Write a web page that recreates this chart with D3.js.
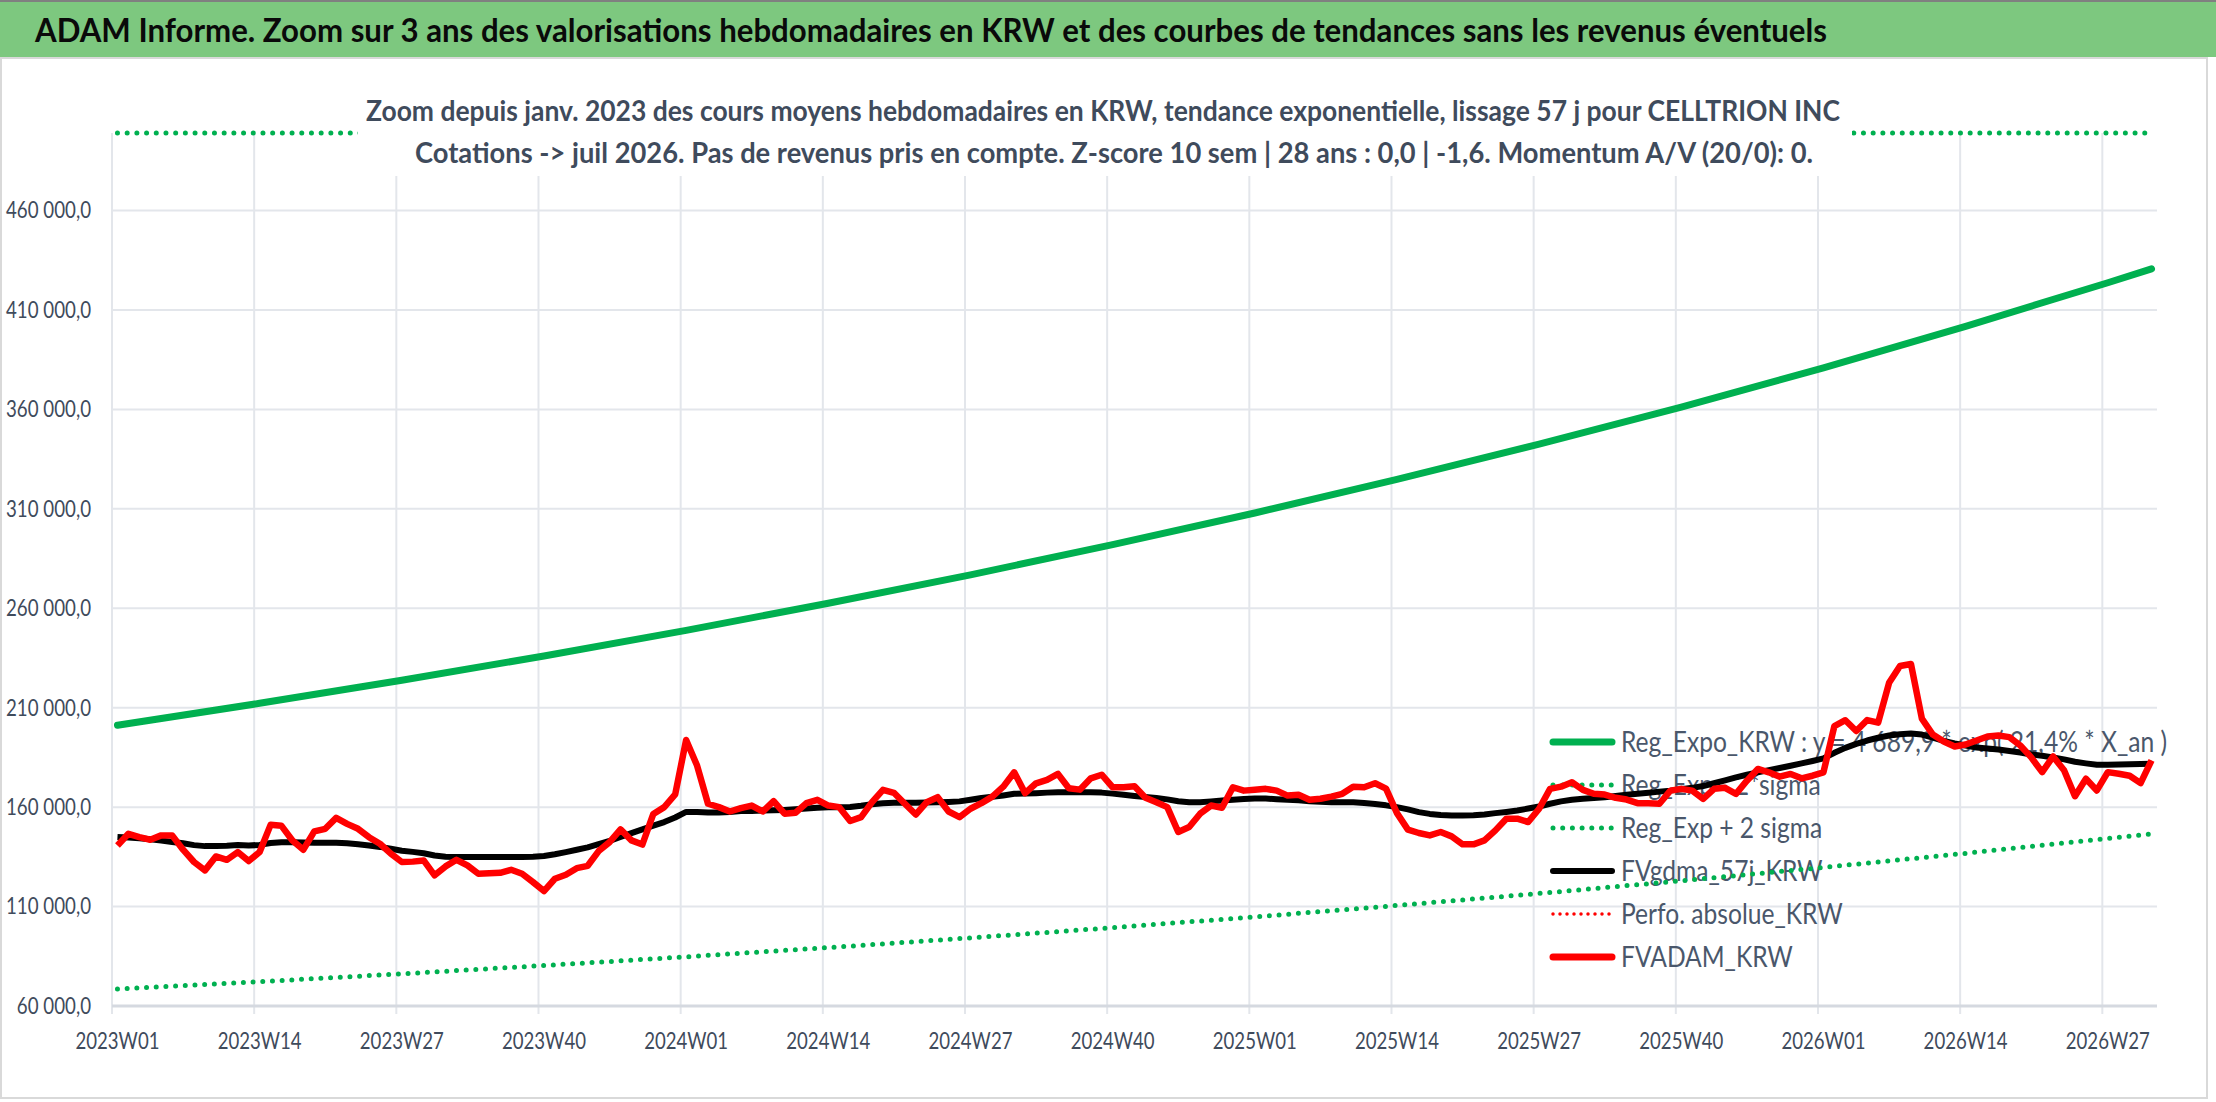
<!DOCTYPE html>
<html>
<head>
<meta charset="utf-8">
<script src="https://cdn.jsdelivr.net/npm/d3@7"></script>
<style>
  body { margin: 0; background: #fff; }
  svg { display: block; }
</style>
</head>
<body>
<div id="chart"></div>
<script>
/* global d3 */

// Weeks shown on the category axis
const years = [2023, 2024, 2025, 2026]
const weeksInYear = [52, 52, 52, 31]
const categories = []
years.forEach((y, i) => {
  for (let w = 1; w <= weeksInYear[i]; w++) categories.push(y + 'W' + String(w).padStart(2, '0'))
})

const tickLabels = ['2023W01', '2023W14', '2023W27', '2023W40', '2024W01', '2024W14', '2024W27', '2024W40',
  '2025W01', '2025W14', '2025W27', '2025W40', '2026W01', '2026W14', '2026W27']
const yTicks = [60000, 110000, 160000, 210000, 260000, 310000, 360000, 410000, 460000]

// Trend curves, read every 13 weeks
const trendWeeks = ['2023W01', '2023W14', '2023W27', '2023W40', '2024W01', '2024W14', '2024W27', '2024W40',
  '2025W01', '2025W14', '2025W27', '2025W40', '2026W01', '2026W14', '2026W27', '2026W31']
const regExpo = [201200, 212200, 223800, 236000, 248900, 262500, 276800, 292000,
  307900, 324800, 342500, 361200, 380900, 401800, 423700, 430700]
const regExpLow = [68500, 72240, 76190, 80350, 84740, 89370, 94250, 99400,
  104830, 110560, 116600, 122970, 129690, 136780, 144250, 146600]
const regExpHigh = [591000, 623300, 657400, 693300, 731200, 771100, 813300, 857700,
  904500, 954000, 1006000, 1061000, 1119000, 1180000, 1245000, 1265000]

// Weekly values
const fvadam = [
  140700, 146600, 144900, 143600, 145800, 145800, 138600, 132400, 128200, 135200,
  133500, 137400, 132900, 137400, 151100, 150600, 143200, 138600, 147800, 149100,
  154600, 151600, 149100, 144900, 141600, 136600, 132400, 132600, 133200, 125700,
  130200, 133500, 130700, 126500, 126700, 127000, 128500, 126500, 122300, 117800,
  124000, 126000, 129300, 130500, 137900, 142400, 148800, 143300, 141200, 156600,
  160000, 166400, 193800, 180900, 161700, 160000, 157800, 159500, 160800, 157800,
  163000, 156700, 157200, 162000, 163700, 160800, 160000, 153000, 155000, 162500,
  168700, 167200, 161700, 156300, 162500, 165000, 157800, 155000, 159200, 162000,
  165300, 170300, 177500, 167000, 172000, 173700, 176700, 169500, 168800, 174500,
  176300, 170000, 170000, 170500, 164700, 162500, 160000, 147500, 150000, 156700,
  160800, 159700, 170000, 168300, 168800, 169200, 168300, 165800, 166200, 163700,
  164200, 165300, 166700, 170300, 170000, 172000, 169300, 157000, 148700, 147000,
  145800, 147500, 145300, 141300, 141300, 143300, 148300, 154200, 154200, 152500,
  159200, 169200, 170300, 172500, 168700, 166700, 166300, 164700, 163800, 162000,
  162000, 161700, 168300, 169200, 168300, 164200, 169200, 169700, 166700, 173300,
  179200, 177500, 175300, 176700, 174500, 175800, 177500, 200800, 203700, 198300,
  203800, 202500, 222500, 231000, 232000, 204500, 196500, 193000, 190500, 191500,
  193500, 195500, 196000, 195200, 191000, 185000, 177600, 185500, 178500, 165500,
  174300, 168400, 177600, 176800, 175800, 172100, 183500]

const fvgdma = [
  145000, 144700, 144400, 143800, 143200, 142500, 141800, 140900, 140400, 140400,
  140600, 141000, 140700, 141000, 142000, 142300, 142300, 142200, 142100, 142100,
  142100, 141800, 141300, 140700, 140000, 139100, 138100, 137500, 136800, 135700,
  135100, 134900, 134900, 134900, 134900, 134900, 134900, 134900, 135000, 135400,
  136300, 137400, 138600, 139800, 141400, 143000, 145000, 146900, 148800, 150700,
  152500, 154800, 157600, 157600, 157300, 157300, 157600, 158000, 158100, 158300,
  158400, 158600, 158900, 159300, 159700, 160000, 160000, 160100, 160700, 161500,
  162000, 162200, 162200, 162200, 162300, 162400, 162600, 162900, 163700, 164600,
  165200, 165900, 166700, 166800, 167000, 167300, 167500, 167500, 167500, 167500,
  167300, 166800, 166200, 165600, 165100, 164600, 163900, 163000, 162500, 162500,
  162900, 163300, 163700, 164100, 164400, 164300, 164000, 163700, 163400, 163000,
  162700, 162500, 162500, 162400, 162100, 161600, 160900, 160000, 158900, 157500,
  156600, 156000, 155800, 155800, 155900, 156300, 157000, 157600, 158300, 159300,
  160300, 161700, 162900, 163700, 164200, 164600, 165000, 165600, 166200, 166700,
  167200, 167800, 168300, 169000, 169700, 170600, 172000, 173500, 175000, 176300,
  177500, 178600, 179700, 180800, 182000, 183200, 184500, 187300, 189800, 191800,
  193500, 194900, 196000, 196700, 197000, 196500, 195000, 193300, 192000, 191000,
  190000, 189500, 189000, 188200, 187500, 186500, 185800, 185000, 184000, 182800,
  182000, 181300, 181300, 181500, 181600, 181700, 181800]

const legendNames = ['Reg_Expo_KRW : y = 4 689,9 * exp( 21,4% *  X_an )', 'Reg_Exp - 2*sigma',
  'Reg_Exp + 2 sigma', 'FVgdma_57j_KRW', 'Perfo. absolue_KRW', 'FVADAM_KRW']

const titleText = 'ADAM Informe. Zoom sur 3 ans des valorisations hebdomadaires en KRW et des courbes de tendances sans les revenus éventuels'
const subtitle1 = 'Zoom depuis janv. 2023 des cours moyens hebdomadaires en KRW, tendance exponentielle, lissage 57 j pour CELLTRION INC'
const subtitle2 = 'Cotations -> juil 2026. Pas de revenus pris en compte. Z-score 10 sem | 28 ans : 0,0 | -1,6. Momentum A/V (20/0): 0.'

// Our canvas
const width = 2216,
  height = 1102
const plot = { left: 112, right: 2157, top: 133, bottom: 1006 }
const font = "Lato, 'Open Sans', sans-serif"
const textColor = '#3F4B5C'
const green = '#00B050'

const svg = d3.select('#chart')
  .append('svg')
  .attr('width', width)
  .attr('height', height)
  .style('font-family', font)

// squeeze a group of texts horizontally so that refText would be target px wide
let squeeze = (sel, size, weight, refText, target) => {
  const tmp = svg.append('text').attr('font-size', size).attr('font-weight', weight).text(refText)
  const k = target / tmp.node().getComputedTextLength()
  tmp.remove()
  sel.each(function () {
    const w = this.getComputedTextLength()
    d3.select(this).attr('textLength', w * k).attr('lengthAdjust', 'spacingAndGlyphs')
  })
}

const xScale = d3.scaleBand()
  .domain(categories)
  .range([plot.left, plot.right])
const xMid = (c) => xScale(c) + xScale.bandwidth() / 2

const yScale = d3.scaleLinear()
  .domain([60000, 499000])
  .range([plot.bottom, plot.top])
  .clamp(true)

const fr = d3.formatLocale({ decimal: ',', thousands: ' ', grouping: [3], currency: ['', ''] })
const yFormat = fr.format(',.1f')

// Frame and green title bar
svg.append('rect').attr('x', 1).attr('y', 58).attr('width', 2206).attr('height', 1040)
  .attr('fill', '#fff').attr('stroke', '#D9D9D9').attr('stroke-width', 2)
svg.append('rect').attr('x', 0).attr('y', 0).attr('width', width).attr('height', 57)
  .attr('fill', '#7DC87F')
svg.append('line').attr('x1', 0).attr('x2', width).attr('y1', 1).attr('y2', 1)
  .attr('stroke', '#808080').attr('stroke-width', 2)
svg.append('text')
  .attr('x', 35).attr('y', 42)
  .attr('textLength', 1792).attr('lengthAdjust', 'spacingAndGlyphs')
  .attr('font-size', 33).attr('font-weight', 'bold').attr('fill', '#0A0A0A')
  .text(titleText)

// Gridlines
svg.append('g')
  .selectAll('line')
  .data(yTicks.slice(1))
  .enter()
  .append('line')
  .attr('x1', plot.left).attr('x2', plot.right)
  .attr('y1', (d) => yScale(d)).attr('y2', (d) => yScale(d))
  .attr('stroke', '#E3E6EB').attr('stroke-width', 2)

svg.append('g')
  .selectAll('line')
  .data(tickLabels)
  .enter()
  .append('line')
  .attr('x1', (d) => xScale(d)).attr('x2', (d) => xScale(d))
  .attr('y1', plot.top).attr('y2', plot.bottom + 8)
  .attr('stroke', '#E3E6EB').attr('stroke-width', 2)

svg.append('line')
  .attr('x1', plot.left).attr('x2', plot.right)
  .attr('y1', yScale(60000)).attr('y2', yScale(60000))
  .attr('stroke', '#D5D9E0').attr('stroke-width', 3)

// Axes
const yAxis = d3.axisLeft(yScale).tickValues(yTicks).tickFormat(yFormat).tickSize(0).tickPadding(21)
const yLabels = svg.append('g')
  .attr('transform', `translate(${plot.left}, 0)`)
  .call(yAxis)
  .call((g) => g.select('.domain').remove())
  .selectAll('text')
  .attr('font-family', font).attr('font-size', 23).attr('fill', textColor)
squeeze(yLabels, 23, 'normal', '460 000,0', 85)

const xAxis = d3.axisBottom(xScale).tickValues(tickLabels).tickSize(0).tickPadding(27)
const xLabels = svg.append('g')
  .attr('transform', `translate(0, ${plot.bottom})`)
  .call(xAxis)
  .call((g) => g.select('.domain').remove())
  .selectAll('text')
  .attr('font-family', font).attr('font-size', 23).attr('fill', textColor)
squeeze(xLabels, 23, 'normal', '2023W01', 84)

// Legend (sits under the curves)
const legendStyles = [
  { color: green, dash: null, w: 7 },
  { color: green, dash: '0 9.7', w: 5 },
  { color: green, dash: '0 9.7', w: 5 },
  { color: '#000', dash: null, w: 6 },
  { color: '#FF0000', dash: '0 7', w: 3.5 },
  { color: '#FF0000', dash: null, w: 7 }
]
const legend = svg.append('g')
legendNames.forEach((name, i) => {
  const y = 742 + i * 43
  const s = legendStyles[i]
  legend.append('line')
    .attr('x1', 1553).attr('x2', 1612).attr('y1', y).attr('y2', y)
    .attr('stroke', s.color).attr('stroke-width', s.w)
    .attr('stroke-linecap', 'round')
    .attr('stroke-dasharray', s.dash)
  legend.append('text')
    .attr('x', 1621).attr('y', y + 10)
    .attr('font-size', 28).attr('fill', '#4A576B')
    .text(name)
})
squeeze(legend.selectAll('text'), 28, 'normal', legendNames[0], 546)

// Curves
const trendLine = d3.line()
  .x((d) => xMid(d.cat))
  .y((d) => yScale(d.v))
const weekLine = d3.line()
  .x((d) => xMid(d.cat))
  .y((d) => yScale(d.v))
  .curve(d3.curveLinear)

const trend = (vals) => vals.map((v, i) => ({ cat: trendWeeks[i], v: v }))
const weekly = (vals) => vals.map((v, i) => ({ cat: categories[i], v: v }))

svg.append('path').datum(trend(regExpo))
  .attr('d', trendLine).attr('fill', 'none')
  .attr('stroke', green).attr('stroke-width', 7).attr('stroke-linecap', 'round')

svg.append('path').datum(trend(regExpLow))
  .attr('d', trendLine).attr('fill', 'none')
  .attr('stroke', green).attr('stroke-width', 5)
  .attr('stroke-linecap', 'round').attr('stroke-dasharray', '0 9.7')

svg.append('path').datum(trend(regExpHigh))
  .attr('d', trendLine).attr('fill', 'none')
  .attr('stroke', green).attr('stroke-width', 5)
  .attr('stroke-linecap', 'round').attr('stroke-dasharray', '0 9.7')

svg.append('path').datum(weekly(fvgdma))
  .attr('d', weekLine).attr('fill', 'none')
  .attr('stroke', '#000').attr('stroke-width', 6)
  .attr('stroke-linejoin', 'round')

svg.append('path').datum(weekly(fvadam))
  .attr('d', weekLine).attr('fill', 'none')
  .attr('stroke', '#FF0000').attr('stroke-width', 6.5)
  .attr('stroke-linejoin', 'round')

// Chart title box over the plot
svg.append('rect').attr('x', 358).attr('y', 82).attr('width', 1494).attr('height', 94).attr('fill', '#fff')
svg.append('text')
  .attr('x', 366).attr('y', 121)
  .attr('textLength', 1474).attr('lengthAdjust', 'spacingAndGlyphs')
  .attr('font-size', 29).attr('font-weight', 'bold').attr('fill', textColor)
  .text(subtitle1)
svg.append('text')
  .attr('x', 415).attr('y', 163)
  .attr('textLength', 1398).attr('lengthAdjust', 'spacingAndGlyphs')
  .attr('font-size', 29).attr('font-weight', 'bold').attr('fill', textColor)
  .text(subtitle2)
</script>
</body>
</html>
